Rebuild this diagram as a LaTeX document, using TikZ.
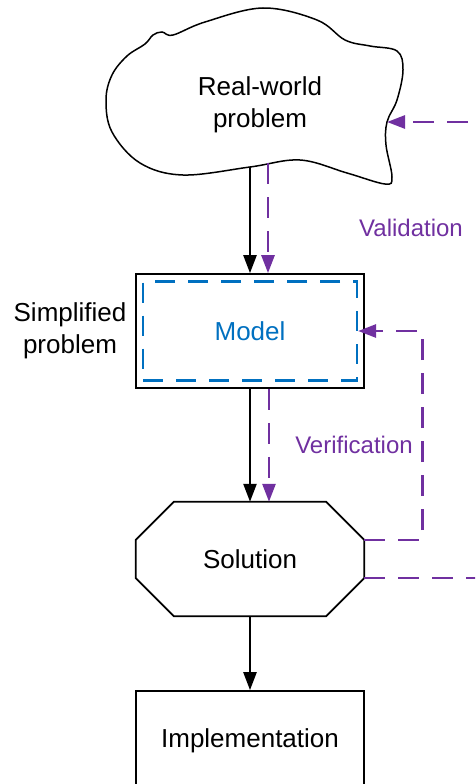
\documentclass[tikz,border=0pt]{standalone}
\usepackage{fontspec}
\setmainfont{Liberation Sans}
\usetikzlibrary{arrows.meta,calc}
\definecolor{vpurple}{HTML}{7030A0}
\definecolor{mblue}{HTML}{0070C0}
\begin{document}
\begin{tikzpicture}[x=1pt,y=-1pt,
  txt/.style={font=\fontsize{26}{32}\selectfont},
  lbl/.style={font=\fontsize{24}{28}\selectfont, text=vpurple},
  flow/.style={line width=2.4pt, -{Triangle[length=18pt,width=13pt]}},
  check/.style={vpurple, line width=2.7pt, dash pattern=on 21pt off 13pt},
  checkarrow/.style={check, -{Triangle[length=18pt,width=13pt]}},
  box/.style={draw, line width=1.7pt, minimum width=228pt, inner sep=0pt},
]
\useasboundingbox (0,0) rectangle (475,784);
\clip (0,0) rectangle (475,784);

% real-world problem cloud
\draw[line width=1.5pt, fill=white] plot[smooth cycle, tension=0.6] coordinates {
  (106,100) (112,75) (127,56) (145,44) (153,35) (162,32) (173,35) (205,22)
  (263,8) (317,20) (345,40) (370,46) (397,51) (403,70) (397,100) (387,122)
  (386,145) (392,177) (385,184) (347,173) (300,160) (250,167) (183,175)
  (140,163) (112,132)};
\node[txt, align=center] (realworld) at (260,105) {Real-world\\problem};
\coordinate (cloudS1) at (250,167);
\coordinate (cloudS2) at (268,163);
\coordinate (cloudE) at (387,122);

% simplified problem with its model
\node[box, minimum height=114pt] (model) at (250,331) {};
\node[draw=mblue, dash pattern=on 20pt off 13pt, line width=2.2pt,
      minimum width=214pt, minimum height=99pt, inner sep=0pt,
      txt, text=mblue] (modelin) at (250,331) {Model};
\node[txt, align=center] (simplified) at (70,331) {Simplified\\problem};

% solution octagon
\node[minimum width=228pt, minimum height=114pt, inner sep=0pt, txt] (sol) at (250,559) {Solution};
\draw[line width=1.7pt]
  ($(sol.north west)+(38,0)$) -- ($(sol.north east)+(-38,0)$) --
  ($(sol.north east)+(0,38)$) -- ($(sol.south east)+(0,-38)$) --
  ($(sol.south east)+(-38,0)$) -- ($(sol.south west)+(38,0)$) --
  ($(sol.south west)+(0,-38)$) -- ($(sol.north west)+(0,38)$) -- cycle;
\coordinate (solV) at ($(sol.east)+(0,-19)$);
\coordinate (solW) at ($(sol.east)+(0,19)$);

% implementation
\node[box, minimum height=100pt, txt] (impl) at (250,741) {Implementation};

% main flow
\draw[flow] (cloudS1) -- (cloudS1 |- model.north);
\draw[flow] (model.south) -- (sol.north);
\draw[flow] (sol.south) -- (impl.north);

% checks
\draw[checkarrow] (cloudS2) -- (cloudS2 |- model.north);
\draw[checkarrow] ($(model.south)+(19,0)$) -- ($(sol.north)+(19,0)$);
\draw[checkarrow] (solV) -- ++(58,0) |- (modelin.east);
\draw[checkarrow] (solW) -- ++(130,0) |- (cloudE);

\node[lbl, anchor=base] (valid) at (411,236) {Validation};
\node[lbl, anchor=base] (verif) at (354,453) {Verification};
\end{tikzpicture}
\end{document}
